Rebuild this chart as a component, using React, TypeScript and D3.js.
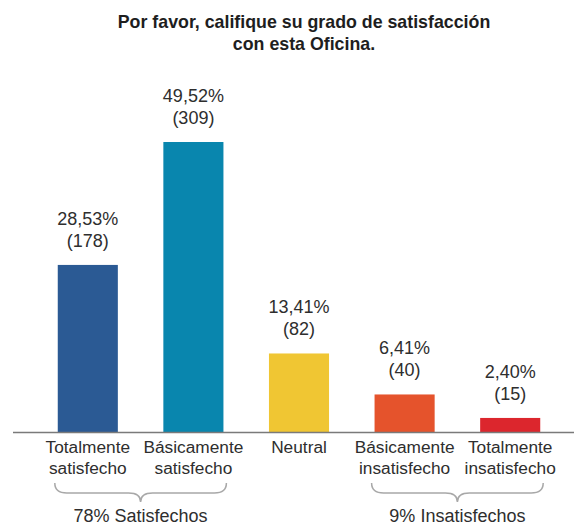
import React from "react";
import * as d3 from "d3";

const categories: string[][] = [
  ["Totalmente", "satisfecho"],
  ["Básicamente", "satisfecho"],
  ["Neutral"],
  ["Básicamente", "insatisfecho"],
  ["Totalmente", "insatisfecho"],
];
const percents: number[] = [28.53, 49.52, 13.41, 6.41, 2.4];
const counts: number[] = [178, 309, 82, 40, 15];
const groupLabels: string[] = ["78% Satisfechos", "9% Insatisfechos"];
const groupSpans: [number, number][] = [
  [0, 1],
  [3, 4],
];
const titleLines: string[] = [
  "Por favor, califique su grado de satisfacción",
  "con esta Oficina.",
];

const palette = ["#2b5a94", "#0986ae", "#f0c633", "#e5532c", "#dc262d"];

const W = 574;
const H = 527;
const FONT = "'Liberation Sans', Arial, Helvetica, sans-serif";
const TEXT = "#2e2e2e";

export default function App() {
  const ids = categories.map((_, i) => String(i));
  const x = d3
    .scaleBand<string>()
    .domain(ids)
    .range([35, 563])
    .paddingInner(0.431)
    .paddingOuter(0.2155);
  const y = d3.scaleLinear().domain([0, 50]).range([432, 139.2]);
  const fmt = (v: number) => v.toFixed(2).replace(".", ",") + "%";

  const bracePath = (x1: number, x2: number, y0: number, y1: number, y2: number) => {
    const cx = (x1 + x2) / 2;
    const q = 12;
    return [
      `M${x1},${y0}`,
      `Q${x1},${y1} ${x1 + q},${y1}`,
      `L${cx - q},${y1}`,
      `Q${cx},${y1} ${cx},${y2}`,
      `Q${cx},${y1} ${cx + q},${y1}`,
      `L${x2 - q},${y1}`,
      `Q${x2},${y1} ${x2},${y0}`,
    ].join(" ");
  };

  const bw = x.bandwidth();

  return (
    <svg
      width={W}
      height={H}
      style={{ position: "absolute", left: 0, top: 0, background: "#fff" }}
      fontFamily={FONT}
    >
      {titleLines.map((t, i) => (
        <text
          key={i}
          x={304}
          y={28 + i * 22}
          textAnchor="middle"
          fontWeight="bold"
          fontSize={17.8}
          fill="#1e1e1e"
        >
          {t}
        </text>
      ))}

      {percents.map((p, i) => {
        const x0 = x(String(i))!;
        const top = y(p);
        return (
          <g key={i}>
            <rect x={x0} y={top} width={bw} height={y(0) - top} fill={palette[i]} />
            <text
              x={x0 + bw / 2}
              y={top - 40}
              textAnchor="middle"
              fontSize={18}
              fill={TEXT}
            >
              {fmt(p)}
            </text>
            <text
              x={x0 + bw / 2}
              y={top - 18}
              textAnchor="middle"
              fontSize={18}
              fill={TEXT}
            >
              {`(${counts[i]})`}
            </text>
            {categories[i].map((line, j) => (
              <text
                key={j}
                x={x0 + bw / 2}
                y={453 + j * 20.5}
                textAnchor="middle"
                fontSize={17.3}
                fill={TEXT}
              >
                {line}
              </text>
            ))}
          </g>
        );
      })}

      <line x1={13} x2={W} y1={y(0) + 0.5} y2={y(0) + 0.5} stroke="#7a7a7a" strokeWidth={1.5} />

      {groupSpans.map(([a, b], i) => {
        const x1 = x(String(a))! + bw / 2 - 33;
        const x2 = x(String(b))! + bw / 2 + 33;
        const cx = (x1 + x2) / 2;
        return (
          <g key={i}>
            <path
              d={bracePath(x1, x2, 483, 493, 502)}
              fill="none"
              stroke="#a8a8a8"
              strokeWidth={1.5}
            />
            <text x={cx} y={522} textAnchor="middle" fontSize={18} fill={TEXT}>
              {groupLabels[i]}
            </text>
          </g>
        );
      })}
    </svg>
  );
}
